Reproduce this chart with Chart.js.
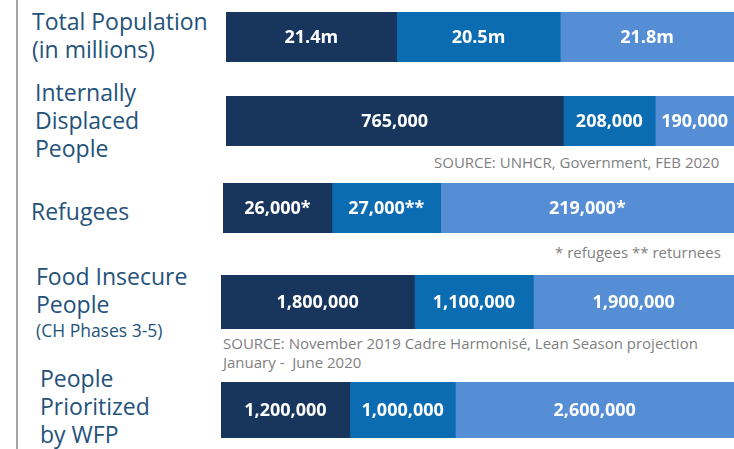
<!DOCTYPE html>
<html>
<head>
<meta charset="utf-8">
<script src="https://cdn.jsdelivr.net/npm/chart.js@4"></script>
<style>
  html, body { margin: 0; padding: 0; background: #ffffff; }
  body { width: 734px; height: 449px; position: relative; overflow: hidden; font-family: "Open Sans", "Noto Sans", sans-serif; }
  .vline { position: absolute; left: 16px; top: 0; width: 2px; height: 449px; background: #a6a6a6; }
  .row { position: absolute; }
  .lbl { position: absolute; color: #24527a; font-size: 23px; line-height: 28px; white-space: nowrap; }
  .lbl small { font-size: 17.5px; display: block; line-height: 24px; }
  .note { position: absolute; color: #808080; font-size: 15px; line-height: 19px; white-space: nowrap; }
</style>
</head>
<body>
<div class="vline"></div>

<div class="lbl" style="left:32px; top:7px;">Total Population<br>(in millions)</div>
<div class="lbl" style="left:35px; top:78px;">Internally<br>Displaced<br>People</div>
<div class="lbl" style="left:31px; top:197px;">Refugees</div>
<div class="lbl" style="left:36px; top:262px;">Food Insecure<br>People<small>(CH Phases 3-5)</small></div>
<div class="lbl" style="left:40px; top:364px;">People<br>Prioritized<br>by WFP</div>

<div class="note" style="left:434px; top:153px;">SOURCE: UNHCR, Government, FEB 2020</div>
<div class="note" style="left:555px; top:243px;">* refugees ** returnees</div>
<div class="note" style="left:223px; top:334px;">SOURCE: November 2019 Cadre Harmonisé, Lean Season projection<br>January -&nbsp; June 2020</div>

<div class="row" id="r0" style="left:226px; top:12px; width:508px; height:50px;"><canvas id="c0"></canvas></div>
<div class="row" id="r1" style="left:226px; top:96px; width:508px; height:50px;"><canvas id="c1"></canvas></div>
<div class="row" id="r2" style="left:223px; top:183px; width:511px; height:50px;"><canvas id="c2"></canvas></div>
<div class="row" id="r3" style="left:221px; top:275px; width:513px; height:54px;"><canvas id="c3"></canvas></div>
<div class="row" id="r4" style="left:221px; top:382px; width:513px; height:56px;"><canvas id="c4"></canvas></div>

<script>
// ---- data ----
const categories = [
  "Total Population (in millions)",
  "Internally Displaced People",
  "Refugees",
  "Food Insecure People (CH Phases 3-5)",
  "People Prioritized by WFP"
];
// text shown in each segment
const labelsSeg1 = ["21.4m", "765,000", "26,000*", "1,800,000", "1,200,000"];
const labelsSeg2 = ["20.5m", "208,000", "27,000**", "1,100,000", "1,000,000"];
const labelsSeg3 = ["21.8m", "190,000", "219,000*", "1,900,000", "2,600,000"];
// segment lengths as drawn (percent of each row's bar)
const shareSeg1 = [33.6, 66.4, 21.3, 37.7, 25.1];
const shareSeg2 = [32.2, 18.1, 21.3, 23.2, 20.6];
const shareSeg3 = [34.2, 15.5, 57.4, 39.1, 54.3];

const colors = ["#18365d", "#0b6cb2", "#558ed5"];

const valueLabelPlugin = {
  id: "valueLabels",
  afterDatasetsDraw(chart) {
    const ctx = chart.ctx;
    ctx.save();
    ctx.fillStyle = "#ffffff";
    ctx.font = "bold 18px 'Open Sans', 'Noto Sans', sans-serif";
    ctx.textAlign = "center";
    ctx.textBaseline = "middle";
    chart.data.datasets.forEach((ds, i) => {
      const meta = chart.getDatasetMeta(i);
      meta.data.forEach((bar, j) => {
        const cx = (bar.x + bar.base) / 2;
        ctx.fillText(ds.labelsText[j], cx, bar.y + 1);
      });
    });
    ctx.restore();
  }
};

for (let r = 0; r < categories.length; r++) {
  new Chart(document.getElementById("c" + r), {
    type: "bar",
    data: {
      labels: [categories[r]],
      datasets: [
        { data: [shareSeg1[r]], labelsText: [labelsSeg1[r]], backgroundColor: colors[0] },
        { data: [shareSeg2[r]], labelsText: [labelsSeg2[r]], backgroundColor: colors[1] },
        { data: [shareSeg3[r]], labelsText: [labelsSeg3[r]], backgroundColor: colors[2] }
      ]
    },
    options: {
      indexAxis: "y",
      responsive: true,
      maintainAspectRatio: false,
      animation: false,
      layout: { padding: 0 },
      datasets: { bar: { barPercentage: 1, categoryPercentage: 1, borderWidth: 0 } },
      scales: {
        x: { stacked: true, display: false, min: 0, max: 100 },
        y: { stacked: true, display: false }
      },
      plugins: { legend: { display: false }, tooltip: { enabled: false } }
    },
    plugins: [valueLabelPlugin]
  });
}
</script>
</body>
</html>
